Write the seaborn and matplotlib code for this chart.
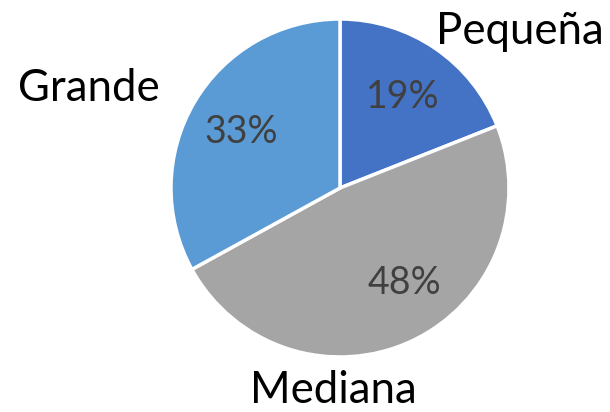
import matplotlib
matplotlib.use("Agg")
import matplotlib.pyplot as plt
import seaborn as sns
import numpy as np

categories = ["Pequeña", "Mediana", "Grande"]
shares = [19, 48, 33]
colors = ["#4472C4", "#A5A5A5", "#5B9BD5"]

# outer category label placement (angle in degrees, distance in radii)
label_angles = [40.9, -92.0, 158.4]
label_dists = [1.41, 1.20, 1.60]
# percentage label placement inside each wedge
pct_angles = [55.3, -55.6, 150.5]
pct_dists = [0.655, 0.68, 0.673]

sns.set_theme(style="white")
plt.rcParams["font.family"] = ["Lato", "DejaVu Sans"]

W, H = 610, 412
fig = plt.figure(figsize=(W / 100, H / 100), dpi=100)
fig.patch.set_facecolor("white")

cx, cy, r = 340, 188, 169
ax = fig.add_axes([(cx - r) / W, (H - cy - r) / H, 2 * r / W, 2 * r / H])

ax.pie(shares, colors=colors, startangle=90, counterclock=False, radius=1,
       wedgeprops=dict(edgecolor="white", linewidth=2.5))

for name, a, d in zip(categories, label_angles, label_dists):
    t = np.deg2rad(a)
    ax.text(d * np.cos(t), d * np.sin(t), name, ha="center", va="center",
            fontsize=31.5, color="black")

for v, a, d in zip(shares, pct_angles, pct_dists):
    t = np.deg2rad(a)
    ax.text(d * np.cos(t), d * np.sin(t), f"{v}%", ha="center", va="center",
            fontsize=27, color="#404040")

ax.set_xlim(-1, 1)
ax.set_ylim(-1, 1)
ax.set_aspect("equal")
ax.axis("off")

fig.savefig("out.png", dpi=100, facecolor="white")
